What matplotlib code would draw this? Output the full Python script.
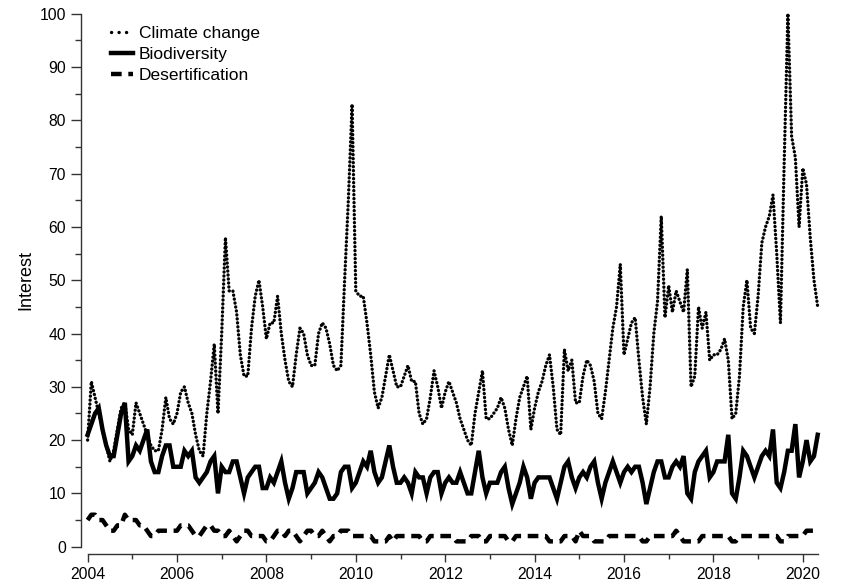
import numpy as np
import matplotlib
matplotlib.use("Agg")
import matplotlib.pyplot as plt
from matplotlib.ticker import MultipleLocator
from matplotlib.lines import Line2D

plt.rcParams['font.family'] = ['Liberation Sans', 'DejaVu Sans']

start_year = 2004
series_names = ["Climate change", "Biodiversity", "Desertification"]

climate_change = [
    20, 31, 28, 25, 22, 19, 16, 18, 22, 26, 27, 22,
    21, 27, 25, 23, 21, 19, 18, 18, 22, 28, 24, 23,
    25, 29, 30, 27, 25, 21, 18, 17, 25, 31, 38, 25,
    40, 58, 48, 48, 44, 36, 32, 32, 41, 47, 50, 45,
    39, 42, 42, 47, 40, 35, 31, 30, 36, 41, 40, 36,
    34, 34, 40, 42, 41, 38, 34, 33, 34, 50, 65, 83,
    48, 47, 47, 42, 36, 29, 26, 28, 32, 36, 33, 30,
    30, 32, 34, 31, 31, 25, 23, 24, 28, 33, 30, 26,
    29, 31, 29, 27, 24, 22, 20, 19, 25, 29, 33, 24,
    24, 25, 26, 28, 26, 22, 19, 24, 28, 30, 32, 22,
    26, 29, 31, 34, 36, 30, 22, 21, 37, 33, 35, 27,
    27, 32, 35, 34, 31, 25, 24, 29, 35, 41, 45, 53,
    36, 39, 42, 43, 35, 28, 23, 30, 40, 46, 62, 43,
    49, 44, 48, 46, 44, 52, 30, 32, 45, 41, 44, 35,
    36, 36, 37, 39, 35, 24, 25, 32, 45, 50, 41, 40,
    47, 57, 60, 62, 66, 55, 42, 72, 100, 77, 73, 60,
    71, 68, 58, 50, 45,
]

biodiversity = [
    21, 23, 25, 26, 22, 19, 17, 17, 21, 25, 27, 16,
    17, 19, 18, 20, 22, 16, 14, 14, 17, 19, 19, 15,
    15, 15, 18, 17, 18, 13, 12, 13, 14, 16, 17, 10,
    15, 14, 14, 16, 16, 13, 10, 13, 14, 15, 15, 11,
    11, 13, 12, 14, 16, 12, 9, 11, 14, 14, 14, 10,
    11, 12, 14, 13, 11, 9, 9, 10, 14, 15, 15, 11,
    12, 14, 16, 15, 18, 14, 12, 13, 16, 19, 15, 12,
    12, 13, 12, 10, 14, 13, 13, 10, 13, 14, 14, 10,
    12, 13, 12, 12, 14, 12, 10, 10, 14, 18, 13, 10,
    12, 12, 12, 14, 15, 11, 8, 10, 12, 15, 13, 9,
    12, 13, 13, 13, 13, 11, 9, 12, 15, 16, 13, 11,
    13, 14, 13, 15, 16, 12, 9, 12, 14, 16, 14, 12,
    14, 15, 14, 15, 15, 12, 8, 11, 14, 16, 16, 13,
    13, 15, 16, 15, 17, 10, 9, 14, 16, 17, 18, 13,
    14, 16, 16, 16, 21, 10, 9, 13, 18, 17, 15, 13,
    15, 17, 18, 17, 22, 12, 11, 14, 18, 18, 23, 13,
    16, 20, 16, 17, 21,
]

desertification = [
    5, 6, 6, 5, 5, 4, 3, 3, 4, 4, 6, 5,
    5, 5, 4, 4, 3, 2, 2, 3, 3, 3, 3, 3,
    3, 4, 4, 4, 3, 2, 2, 3, 4, 4, 3, 3,
    2, 2, 3, 2, 1, 2, 3, 3, 2, 2, 2, 2,
    1, 1, 2, 3, 3, 2, 3, 3, 2, 1, 2, 3,
    3, 2, 2, 3, 2, 1, 2, 2, 3, 3, 3, 2,
    2, 2, 2, 2, 2, 1, 1, 1, 1, 2, 1, 2,
    2, 2, 2, 2, 2, 2, 1, 1, 2, 2, 2, 2,
    2, 2, 2, 1, 1, 1, 1, 2, 2, 2, 1, 1,
    2, 2, 2, 2, 2, 1, 1, 2, 2, 2, 2, 2,
    2, 2, 2, 2, 1, 1, 1, 1, 2, 2, 2, 1,
    3, 2, 2, 2, 1, 1, 1, 1, 2, 2, 2, 2,
    2, 2, 2, 2, 2, 1, 1, 2, 2, 2, 2, 2,
    2, 2, 3, 2, 1, 1, 1, 1, 1, 2, 2, 2,
    2, 2, 2, 2, 2, 1, 1, 2, 2, 2, 2, 2,
    2, 2, 2, 2, 2, 2, 1, 1, 2, 2, 2, 2,
    2, 3, 3, 3, 3,
]

x_major_ticks = [2004, 2006, 2008, 2010, 2012, 2014, 2016, 2018, 2020]
y_major_ticks = [0, 10, 20, 30, 40, 50, 60, 70, 80, 90, 100]
y_label = "Interest"

months = np.arange(len(climate_change))
x = start_year + months / 12.0

W, H = 841, 584
fig = plt.figure(figsize=(W / 100, H / 100), dpi=100)
x_left, x_right = 87.6, 817.7
y_bottom, y_top = 546.7, 13.7
ax = fig.add_axes([x_left / W, (H - y_bottom) / H, (x_right - x_left) / W, (y_bottom - y_top) / H])

dot_lw = 2.4
bold_lw = 3.2
dash_pattern = (0, (2.4, 1.5))
ax.plot(x, climate_change, color='black', lw=dot_lw, linestyle=(0, (0.05, 1.15)),
        dash_capstyle='round', solid_capstyle='round', clip_on=False)
ax.plot(x, biodiversity, color='black', lw=bold_lw, linestyle='-', solid_joinstyle='miter',
        clip_on=False)
ax.plot(x, desertification, color='black', lw=bold_lw, linestyle=dash_pattern,
        dash_capstyle='butt', clip_on=False)

ax.set_xlim(start_year, x[-1])
ax.set_ylim(0, 100)

for s in ['top', 'right']:
    ax.spines[s].set_visible(False)
ax.spines['left'].set_position(('outward', 4.8))
ax.spines['bottom'].set_position(('outward', 5.5))
ax.spines['left'].set_bounds(0, 100)
ax.spines['bottom'].set_bounds(start_year, x[-1])
for s in ['left', 'bottom']:
    ax.spines[s].set_linewidth(1.0)
    ax.spines[s].set_color('#333333')

ax.set_xticks(x_major_ticks)
ax.set_xticklabels([str(t) for t in x_major_ticks])
ax.xaxis.set_minor_locator(MultipleLocator(1))
ax.set_yticks(y_major_ticks)
ax.yaxis.set_minor_locator(MultipleLocator(5))

ax.tick_params(axis='both', which='major', direction='out', width=1.0, color='#333333',
               labelsize=11.3, pad=3.5)
ax.tick_params(axis='y', which='major', length=7.2)
ax.tick_params(axis='x', which='major', length=5.5)
ax.tick_params(axis='y', which='minor', direction='out', length=4, width=1.0, color='#333333')
ax.tick_params(axis='x', which='minor', direction='out', length=3.5, width=1.0, color='#333333')

ax.set_ylabel(y_label, fontsize=13)

handles = [
    Line2D([], [], color='black', lw=dot_lw, linestyle=(0, (0.05, 2.2)), dash_capstyle='round'),
    Line2D([], [], color='black', lw=bold_lw, linestyle='-'),
    Line2D([], [], color='black', lw=bold_lw, linestyle=dash_pattern, dash_capstyle='butt'),
]
leg = ax.legend(handles, series_names, loc='upper left', bbox_to_anchor=(0.0225, 0.99),
                frameon=False, fontsize=12.5, handlelength=1.27, handletextpad=0.35,
                labelspacing=0.33, borderaxespad=0)

fig.savefig('out.png', dpi=100)
